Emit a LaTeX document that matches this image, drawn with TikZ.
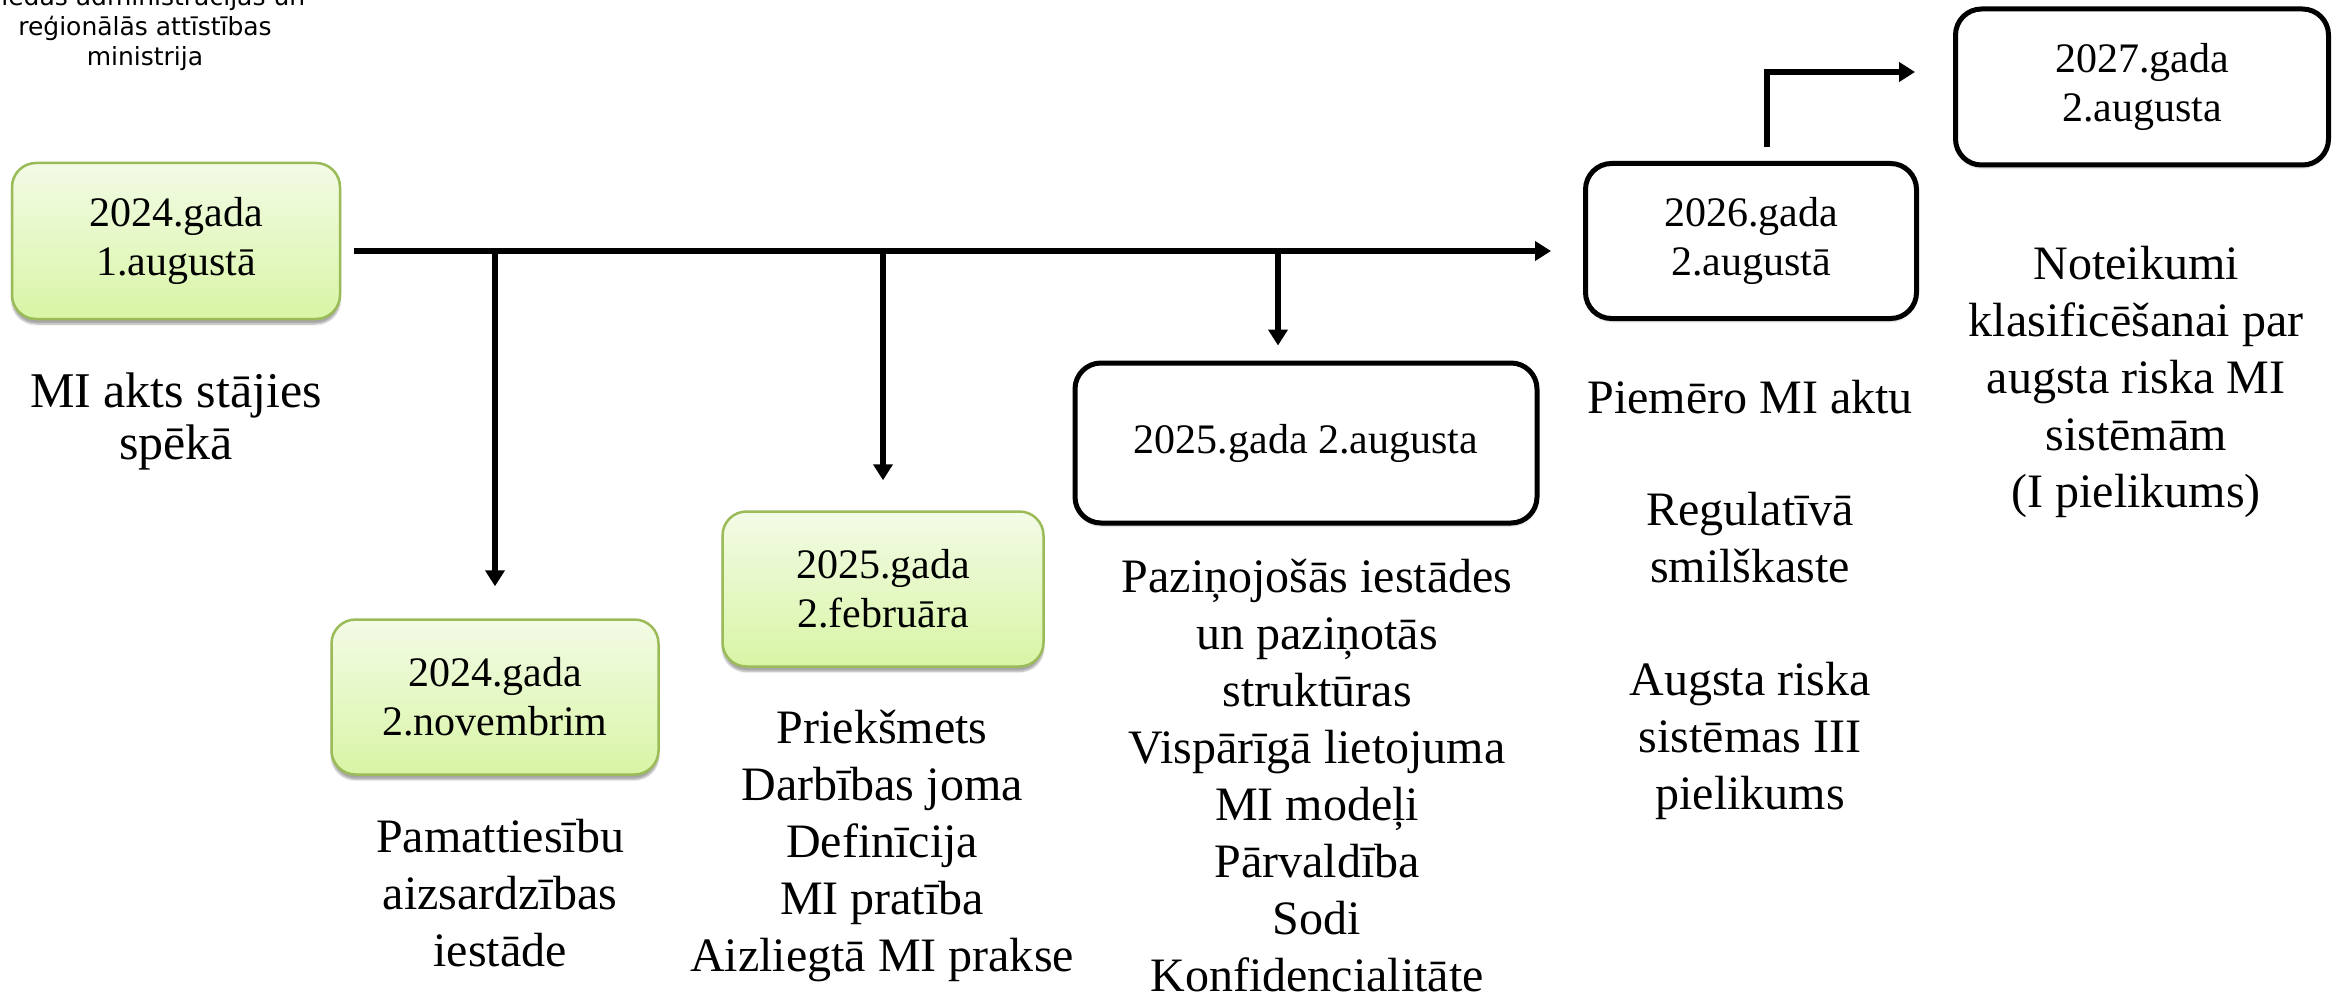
\documentclass[tikz,border=0pt]{standalone}
\usepackage{fontspec}
\setmainfont{Liberation Serif}
\newfontfamily\minfont{DejaVu Sans}
\usetikzlibrary{arrows.meta,shadows.blur}
\definecolor{gborder}{RGB}{155,187,89}
\definecolor{gtop}{RGB}{243,251,230}
\definecolor{gbot}{RGB}{216,245,165}
\tikzset{
  boxtext/.style={align=center, font=\fontsize{42}{49}\selectfont},
  greenbox/.style={boxtext, draw=gborder, line width=2.5pt, rounded corners=24pt,
    top color=gtop, bottom color=gbot,
    blur shadow={shadow xshift=0pt, shadow yshift=-5pt, shadow blur steps=6, shadow opacity=35}},
  blackbox/.style={boxtext, draw=black, line width=5pt, rounded corners=26pt, fill=white,
    blur shadow={shadow xshift=0pt, shadow yshift=-3pt, shadow blur steps=4, shadow opacity=20}},
  bodytext/.style={align=center, font=\fontsize{48}{57}\selectfont, inner sep=0pt},
  arr/.style={line width=6pt, -{Triangle[length=16pt,width=19pt]}},
}
\begin{document}
\begin{tikzpicture}[x=1pt,y=-1pt]
\useasboundingbox (0,0) rectangle (2339,995);
\clip (0,0) rectangle (2339,995);

% ministry label (cut at the top)
\node[align=center, inner sep=0pt, font=\minfont\fontsize{25}{30}\selectfont] (min) at (145,29)
  {Viedās administrācijas un\\reģionālās attīstības\\ministrija};

% date boxes
\node[greenbox, minimum width=328pt, minimum height=156pt] (b1) at (176,241) {2024.gada\\1.augustā};
\node[greenbox, minimum width=327pt, minimum height=155pt] (nov) at (495,697) {2024.gada\\2.novembrim};
\node[greenbox, minimum width=321pt, minimum height=155pt] (feb) at (883,589) {2025.gada\\2.februāra};
\node[blackbox, minimum width=462pt, minimum height=160pt] (aug25) at (1306,443) {2025.gada 2.augusta};
\node[blackbox, minimum width=331pt, minimum height=155pt] (b2026) at (1751,241) {2026.gada\\2.augustā};
\node[blackbox, minimum width=373pt, minimum height=156pt] (b2027) at (2142,87) {2027.gada\\2.augusta};

% descriptions
\node[bodytext, font=\fontsize{50}{52}\selectfont] (t1) at (176,421) {MI akts stājies\\spēkā};
\node[bodytext] (t2) at (500,893) {Pamattiesību\\aizsardzības\\iestāde};
\node[bodytext] (t3) at (882,846) {Priekšmets\\Darbības joma\\Definīcija\\MI pratība\\Aizliegtā MI prakse};
\node[bodytext] (t4) at (1317,776) {Paziņojošās iestādes\\un paziņotās\\struktūras\\Vispārīgā lietojuma\\MI modeļi\\Pārvaldība\\Sodi\\Konfidencialitāte};
\node[bodytext] (t5a) at (1750,397) {Piemēro MI aktu};
\node[bodytext] (t5b) at (1750,538) {Regulatīvā\\smilškaste};
\node[bodytext] (t5c) at (1750,741) {Augsta riska\\sistēmas III\\pielikums};
\node[bodytext] (t6) at (2136,382) {Noteikumi\\klasificēšanai par\\augsta riska MI\\sistēmām\\(I pielikums)};

% connectors
\coordinate (m0) at (354,251);
\coordinate (m1) at (1551,251);
\draw[arr] (m0) -- (m1);
\coordinate (v1) at (495,251);
\coordinate (v2) at (883,251);
\coordinate (v3) at (1278,251);
\draw[arr, shorten >=32pt] (v1) -- (v1 |- nov.north);
\draw[arr, shorten >=30pt] (v2) -- (v2 |- feb.north);
\draw[arr, shorten >=15pt] (v3) -- (v3 |- aug25.north);
\coordinate (e0) at (1767,147);
\coordinate (e1) at (1915,72);
\draw[arr] (e0) |- (e1);
\end{tikzpicture}
\end{document}
